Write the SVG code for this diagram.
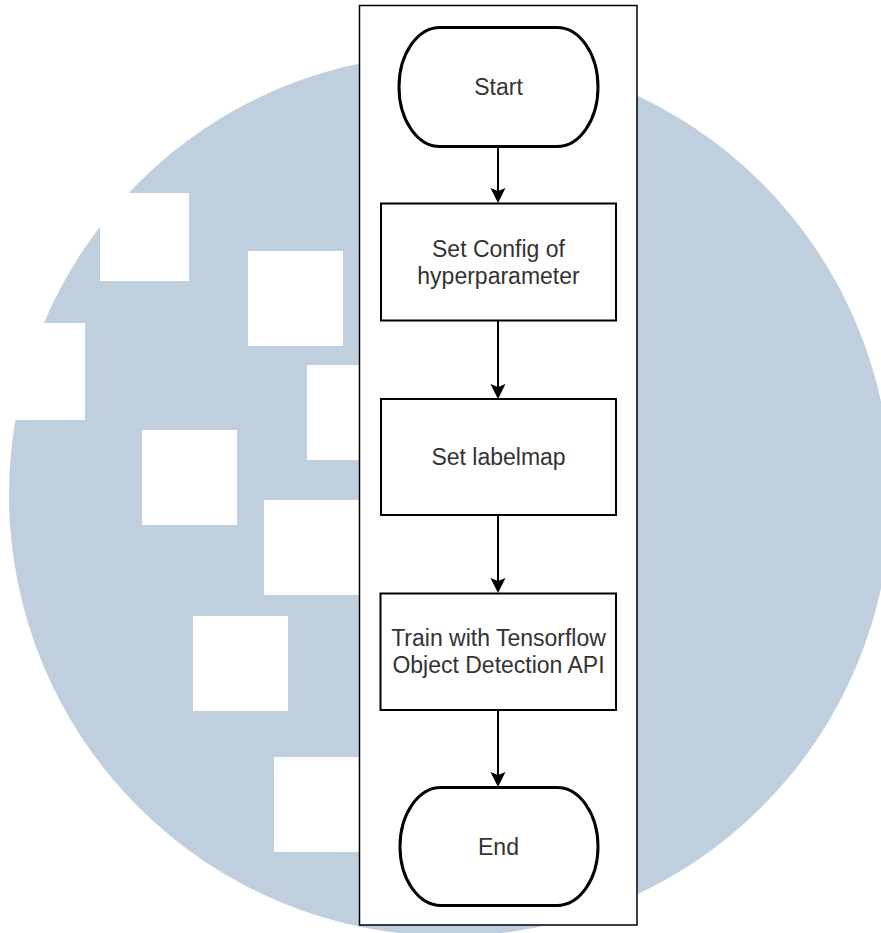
<svg xmlns="http://www.w3.org/2000/svg" width="881" height="933" viewBox="0 0 881 933">
<style>
.bg{fill:#C0CFDD}
.sq{fill:#FFFFFF}
.frame{fill:#FFFFFF;stroke:#000;stroke-width:1.5}
.proc{fill:#FFFFFF;stroke:#000;stroke-width:2}
.term{fill:#FFFFFF;stroke:#000;stroke-width:3}
.lbl{font-family:"Liberation Sans",Arial,sans-serif;font-size:23px;fill:#333333;text-anchor:middle}
.edge{stroke:#000;stroke-width:2;fill:none}
.head{fill:#000}
</style>
<rect width="881" height="933" fill="#FFFFFF"/>
<g id="background">
<circle class="bg" cx="450" cy="495" r="441"/>
<rect class="sq" x="100" y="193" width="89" height="88"/>
<rect class="sq" x="248" y="251" width="95" height="95"/>
<rect class="sq" x="307" y="365" width="95" height="95"/>
<rect class="sq" x="-10" y="323" width="95" height="97"/>
<rect class="sq" x="142" y="430" width="95" height="95"/>
<rect class="sq" x="264" y="500" width="95" height="95"/>
<rect class="sq" x="193" y="616" width="95" height="95"/>
<rect class="sq" x="274" y="757" width="95" height="95"/>
</g>
<g id="frame">
<rect class="frame" x="359.5" y="5.5" width="277.5" height="919.5"/>
</g>
<g id="connectors">
<line class="edge" x1="498" y1="146" x2="498" y2="192"/>
<polygon class="head" points="498,203 490.5,188 498,191 505.5,188"/>
<line class="edge" x1="498" y1="321" x2="498" y2="388"/>
<polygon class="head" points="498,399 490.5,384 498,387 505.5,384"/>
<line class="edge" x1="498" y1="515" x2="498" y2="582"/>
<polygon class="head" points="498,593 490.5,578 498,581 505.5,578"/>
<line class="edge" x1="498" y1="710" x2="498" y2="776"/>
<polygon class="head" points="498,787 490.5,772 498,775 505.5,772"/>
</g>
<g id="start">
<path class="term" d="M440,27.5 H557 A41,59.5 0 0 1 557,146.5 H440 A41,59.5 0 0 1 440,27.5 Z"/>
<text class="lbl" x="498.5" y="95">Start</text>
</g>
<g id="config">
<rect class="proc" x="381" y="203.5" width="235" height="117"/>
<text class="lbl" x="498.5" y="256.5">Set Config of</text>
<text class="lbl" x="498.5" y="283.5">hyperparameter</text>
</g>
<g id="labelmap">
<rect class="proc" x="381" y="399" width="235" height="116"/>
<text class="lbl" x="498.5" y="465">Set labelmap</text>
</g>
<g id="train">
<rect class="proc" x="380.5" y="593.5" width="235.5" height="116.5"/>
<text class="lbl" x="498.5" y="646">Train with Tensorflow</text>
<text class="lbl" x="498.5" y="673">Object Detection API</text>
</g>
<g id="end">
<path class="term" d="M441,787.5 H557 A41,59 0 0 1 557,905.5 H441 A41,59 0 0 1 441,787.5 Z"/>
<text class="lbl" x="498.5" y="855">End</text>
</g>
</svg>
